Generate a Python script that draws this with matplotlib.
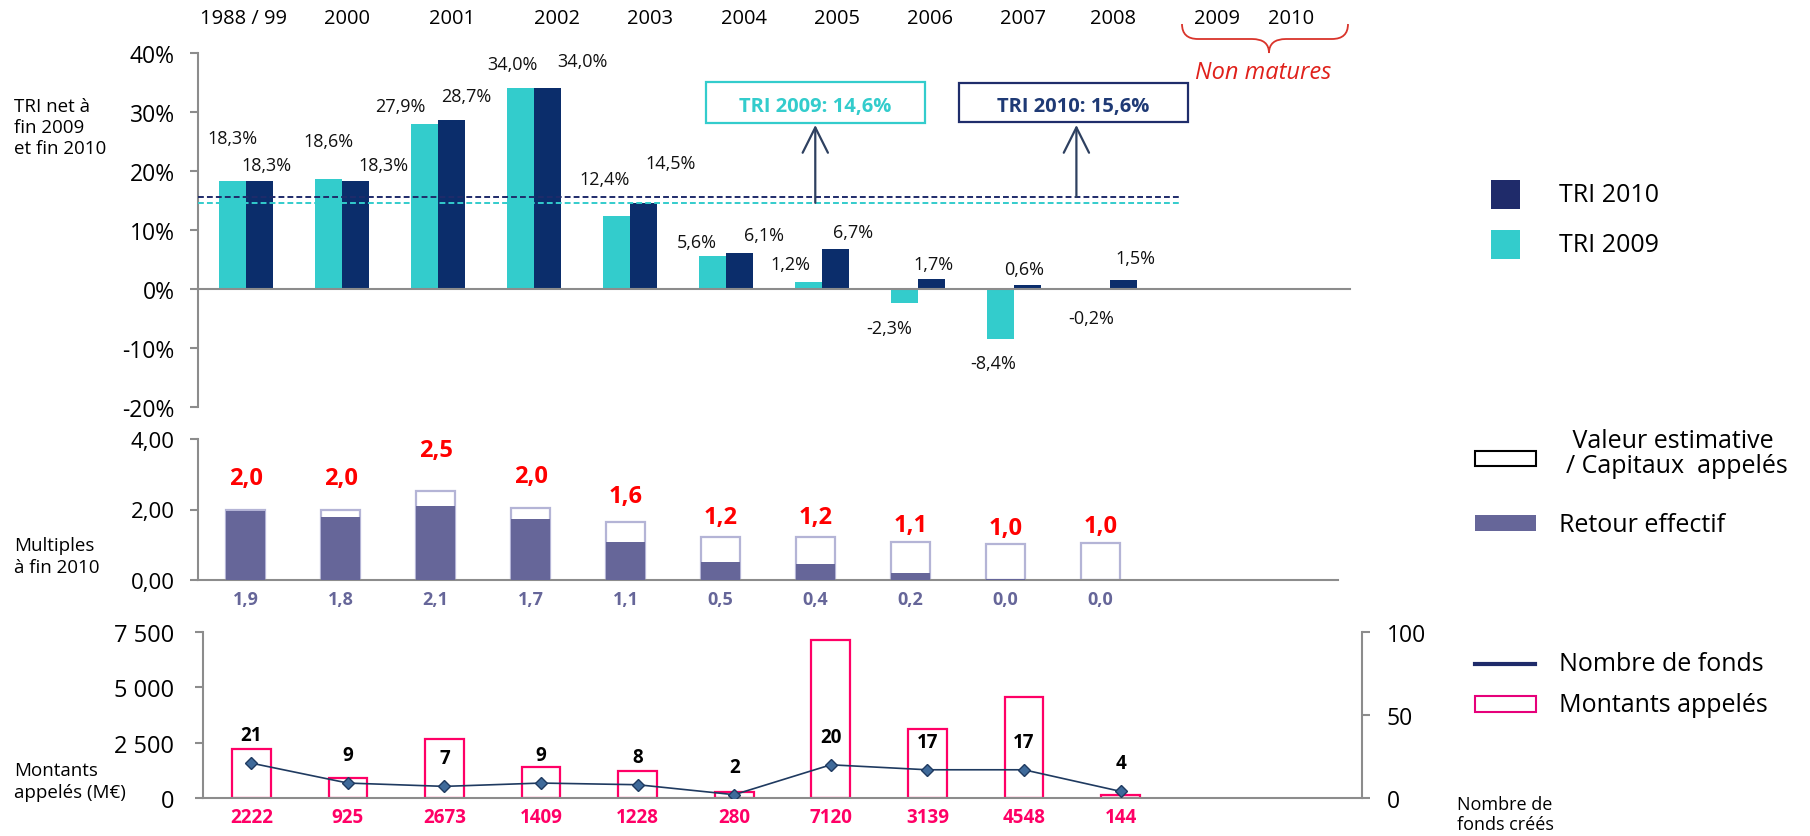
import matplotlib
matplotlib.use('Agg')
import matplotlib.pyplot as plt
from matplotlib.patches import Rectangle, PathPatch
from matplotlib.path import Path
from matplotlib.lines import Line2D
from matplotlib.transforms import blended_transform_factory

plt.rcParams['font.family'] = ['Open Sans', 'DejaVu Sans']

# ---- data ----
years = ['1988 / 99', '2000', '2001', '2002', '2003', '2004', '2005',
         '2006', '2007', '2008', '2009', '2010']
tri_2009 = [18.3, 18.6, 27.9, 34.0, 12.4, 5.6, 1.2, -2.3, -8.4, -0.2]
tri_2010 = [18.3, 18.3, 28.7, 34.0, 14.5, 6.1, 6.7, 1.7, 0.6, 1.5]
tri_global_2009 = 14.6
tri_global_2010 = 15.6

multiple_total = [1.99, 1.99, 2.52, 2.03, 1.64, 1.23, 1.22, 1.07, 1.02, 1.04]
retour_effectif = [1.95, 1.78, 2.09, 1.72, 1.09, 0.51, 0.44, 0.19, 0.03, 0.0]

montants = [2222, 925, 2673, 1409, 1228, 280, 7120, 3139, 4548, 144]
nb_fonds = [21, 9, 7, 9, 8, 2, 20, 17, 17, 4]

# label placement (pixels, relative to bar centre / bar end)
lbl09_off = [(0, 43), (0, 38), (-24, 18), (-8, 24), (-12, 37), (-15, 14),
             (-18, 18), (-15, -25), (-7, -24), (-5, -28)]
lbl10_off = [(7, 16), (28, 16), (15, 24), (35, 27), (27, 40), (24, 18),
             (17, 17), (2, 15), (-4, 16), (12, 22)]
year_shift = [-0.03, 0.05, 0.15, 0.24, 0.21, 0.19, 0.16, 0.13, 0.09, 0.03, 0.11, -0.11]

CYAN = '#33cccc'
NAVY = '#0b2d6b'
NAVY_L = '#1f2b6a'
GREY = '#8c8c8c'
PURPLE = '#666699'
LAVENDER = '#b4b4d6'
PINK = '#ff0066'
RED = '#ff0000'

W, H = 1810, 837
fig = plt.figure(figsize=(W / 100, H / 100), dpi=100)


def fx(px):
    return px / W


def fy(py):
    return 1 - py / H


def frect(x0, y0, x1, y1, **kw):
    r = Rectangle((fx(x0), fy(y1)), (x1 - x0) / W, (y1 - y0) / H,
                  transform=fig.transFigure, **kw)
    fig.add_artist(r)


def style_axis(ax):
    for s in ['top', 'right']:
        ax.spines[s].set_visible(False)
    for s in ['left', 'bottom']:
        ax.spines[s].set_color(GREY)
        ax.spines[s].set_linewidth(1.5)
    ax.tick_params(axis='y', direction='out', length=5.8, width=1.5,
                   color=GREY, pad=11)
    ax.tick_params(axis='x', bottom=False, labelbottom=False)


n = len(tri_2009)
x = list(range(n))

# ---- top: TRI ----
ax1 = fig.add_axes([fx(198), fy(408), (1350 - 198) / W, (408 - 54) / H])
style_axis(ax1)
ax1.spines['bottom'].set_position(('data', 0))
ax1.set_xlim(-0.5, 11.5)
ax1.set_ylim(-20, 40)
ax1.set_yticks(range(-20, 41, 10))
ax1.set_yticklabels([f'{v}%' for v in range(-20, 41, 10)], fontsize=16.5)

bw = 0.286
ax1.bar([i - bw / 2 for i in x], tri_2009, bw, color=CYAN, zorder=2)
ax1.bar([i + bw / 2 for i in x], tri_2010, bw, color=NAVY, zorder=2)

ax1.hlines(tri_global_2010, -0.5, 9.72, colors=NAVY_L, linestyles=(0, (3, 1.6)), lw=1.4, zorder=3)
ax1.hlines(tri_global_2009, -0.5, 9.72, colors=CYAN, linestyles=(0, (3, 1.6)), lw=1.4, zorder=3)

for i in x:
    for vals, offs, sign in ((tri_2009, lbl09_off, -1), (tri_2010, lbl10_off, 1)):
        v = vals[i]
        dx, dy = offs[i]
        ax1.annotate(f'{v:.1f}%'.replace('.', ','), (i + sign * bw / 2, v),
                     xytext=(dx, dy), textcoords='offset pixels',
                     ha='center', va='center', fontsize=13, color='#111111')

year_tr = blended_transform_factory(ax1.transData, fig.transFigure)
for i, yr in enumerate(years):
    ax1.text(i + year_shift[i], fy(19), yr, transform=year_tr,
             ha='center', va='center', fontsize=14.5)

# arrows to the global TRI boxes
arrow_kw = dict(arrowstyle='->,head_length=0.7,head_width=0.35', color='#2e4060',
                lw=1.6, mutation_scale=26, shrinkA=0, shrinkB=0)
ax1.annotate('', xy=(5.93, 27.8), xytext=(5.93, tri_global_2009), arrowprops=arrow_kw, zorder=4)
ax1.annotate('', xy=(8.65, 27.8), xytext=(8.65, tri_global_2010), arrowprops=arrow_kw, zorder=4)

frect(706, 83, 925, 124, fill=False, edgecolor=CYAN, lw=1.6)
fig.text(fx(815), fy(107), 'TRI 2009: 14,6%', ha='center', va='center',
         fontsize=14.5, fontweight='bold', color=CYAN)
frect(959, 84, 1188, 123, fill=False, edgecolor='#1f2d6b', lw=1.6)
fig.text(fx(1073), fy(107), 'TRI 2010: 15,6%', ha='center', va='center',
         fontsize=14.5, fontweight='bold', color='#1f3a75')

# brace "Non matures"
bx = [(1182, 25), (1182, 40), (1198, 40), (1252, 40), (1269, 40), (1269, 54),
      (1269, 40), (1286, 40), (1332, 40), (1348, 40), (1348, 25)]
codes = [Path.MOVETO, Path.CURVE3, Path.CURVE3, Path.LINETO, Path.CURVE3, Path.CURVE3,
         Path.CURVE3, Path.CURVE3, Path.LINETO, Path.CURVE3, Path.CURVE3]
brace = Path([(fx(a), fy(b)) for a, b in bx], codes)
fig.add_artist(PathPatch(brace, transform=fig.transFigure, fill=False,
                         edgecolor='#d9342b', lw=1.3))
fig.text(fx(1263), fy(73), 'Non matures', ha='center', va='center',
         fontsize=17, style='italic', color='#e0201a')

fig.text(fx(14), fy(128), 'TRI net à\nfin 2009\net fin 2010', ha='left', va='center',
         fontsize=13.5, linespacing=1.25)

# legend top
frect(1491, 181, 1520, 210, color=NAVY_L, lw=0)
fig.text(fx(1559), fy(196), 'TRI 2010', va='center', fontsize=18)
frect(1491, 231, 1520, 260, color=CYAN, lw=0)
fig.text(fx(1559), fy(246), 'TRI 2009', va='center', fontsize=18)

# ---- middle: multiples ----
ax2 = fig.add_axes([fx(198), fy(581), (1338 - 198) / W, (581 - 440) / H])
style_axis(ax2)
ax2.set_xlim(-0.5, 11.5)
ax2.set_ylim(0, 4)
ax2.set_yticks([0, 2, 4])
ax2.set_yticklabels(['0,00', '2,00', '4,00'], fontsize=16)
mw = 0.41
ax2.bar(x, multiple_total, mw, facecolor='white', edgecolor=LAVENDER, lw=1.6, zorder=2)
ax2.bar(x, retour_effectif, mw, color=PURPLE, lw=0, zorder=3)
for i in x:
    ax2.text(i, multiple_total[i] * 1.46, f'{multiple_total[i]:.1f}'.replace('.', ','),
             ha='center', va='center', fontsize=17, fontweight='bold', color=RED)
    ax2.annotate(f'{retour_effectif[i]:.1f}'.replace('.', ','), (i, 0), xytext=(0, -19),
                 textcoords='offset pixels', ha='center', va='center',
                 fontsize=13, fontweight='bold', color=PURPLE, annotation_clip=False)

fig.text(fx(14), fy(557), 'Multiples\nà fin 2010', ha='left', va='center',
         fontsize=13.5, linespacing=1.25)

frect(1475, 452, 1536, 467, facecolor='white', edgecolor='black', lw=1.5)
fig.text(fx(1566), fy(454), ' Valeur estimative\n/ Capitaux  appelés', va='center',
         fontsize=18, linespacing=1.05)
frect(1475, 516, 1536, 532, color=PURPLE, lw=0)
fig.text(fx(1559), fy(526), 'Retour effectif', va='center', fontsize=18)

# ---- bottom: montants appelés / nombre de fonds ----
ax3 = fig.add_axes([fx(203), fy(799), (1362 - 203) / W, (799 - 633) / H])
style_axis(ax3)
ax3.set_xlim(-0.5, 11.5)
ax3.set_ylim(0, 7500)
ax3.set_yticks([0, 2500, 5000, 7500])
ax3.set_yticklabels(['0', '2 500', '5 000', '7 500'], fontsize=17)
ax3.tick_params(axis='y', pad=15)
ax3.bar(x, montants, 0.40, facecolor='white', edgecolor=PINK, lw=1.6, zorder=2)
for i in x:
    ax3.annotate(str(montants[i]), (i, 0), xytext=(0, -19), textcoords='offset pixels',
                 ha='center', va='center', fontsize=13.5, fontweight='bold', color=PINK,
                 annotation_clip=False)

ax3b = ax3.twinx()
for s in ['top', 'left', 'bottom']:
    ax3b.spines[s].set_visible(False)
ax3b.spines['right'].set_color(GREY)
ax3b.spines['right'].set_linewidth(1.5)
ax3b.set_ylim(0, 100)
ax3b.set_yticks([0, 50, 100])
ax3b.set_yticklabels(['0', '50', '100'], fontsize=16.5)
ax3b.tick_params(axis='y', direction='out', length=5.8, width=1.5, color=GREY, pad=12)
ax3b.plot(x, nb_fonds, color='#1f3a60', lw=1.2, marker='D', markersize=6.5,
          markerfacecolor='#3f6a9a', markeredgecolor='#1f3a60', zorder=4)
for i in x:
    ax3b.annotate(str(nb_fonds[i]), (i, nb_fonds[i]), xytext=(0, 28),
                  textcoords='offset pixels', ha='center', va='center',
                  fontsize=13.5, fontweight='bold', color='black')

fig.text(fx(14), fy(782), 'Montants\nappelés (M€)', ha='left', va='center',
         fontsize=13.5, linespacing=1.25)
fig.text(fx(1457), fy(815), 'Nombre de\nfonds créés', ha='left', va='center',
         fontsize=13, linespacing=1.2)

fig.add_artist(Line2D([fx(1475), fx(1535)], [fy(665), fy(665)], color=NAVY_L, lw=3,
                      transform=fig.transFigure))
fig.text(fx(1559), fy(665), 'Nombre de fonds', va='center', fontsize=18)
frect(1475, 697, 1536, 713, facecolor='white', edgecolor='#e6007a', lw=1.5)
fig.text(fx(1559), fy(706), 'Montants appelés', va='center', fontsize=18)

fig.savefig('out.png', dpi=100)
